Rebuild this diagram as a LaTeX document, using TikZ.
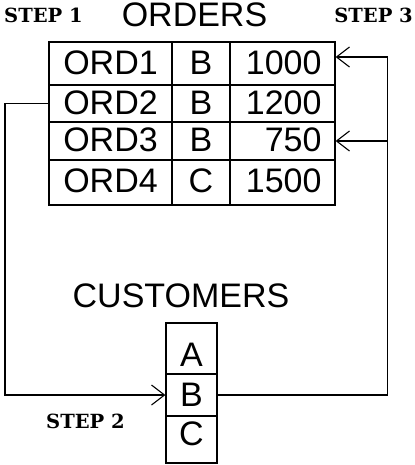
\documentclass[tikz,border=0pt]{standalone}
\usepackage{fontspec}
\setmainfont{Liberation Sans}
\newfontfamily\stepfont{DejaVu Serif}
\usetikzlibrary{arrows.meta}
\tikzset{
  cell/.style={draw, line width=1.2bp, inner sep=0pt, text height=24.3bp, text depth=3bp,
    font=\fontsize{34bp}{36bp}\selectfont},
  numcell/.style={cell, text width=78bp, align=right},
  title/.style={inner sep=0pt, font=\fontsize{34bp}{36bp}\selectfont},
  steplbl/.style={inner sep=0pt, font=\stepfont\bfseries\fontsize{19.5bp}{22bp}\selectfont},
  conn/.style={line width=1.3bp, -{Straight Barb[length=13bp,width=20bp,line width=1.1bp]}}
}
\begin{document}
\begin{tikzpicture}[x=1bp,y=-1bp]
\useasboundingbox (0,0) rectangle (414,465);
% ORDERS table
\node[cell, minimum width=123bp, minimum height=43bp] (r1c1) at (110.5,63.5) {ORD1};
\node[cell, minimum width=58bp,  minimum height=43bp] (r1c2) at (201,63.5) {B};
\node[numcell, minimum width=105bp, minimum height=43bp] (r1c3) at (282.5,63.5) {1000};
\node[cell, minimum width=123bp, minimum height=37bp] (r2c1) at (110.5,103.5) {ORD2};
\node[cell, minimum width=58bp,  minimum height=37bp] (r2c2) at (201,103.5) {B};
\node[numcell, minimum width=105bp, minimum height=37bp] (r2c3) at (282.5,103.5) {1200};
\node[cell, minimum width=123bp, minimum height=38bp] (r3c1) at (110.5,141) {ORD3};
\node[cell, minimum width=58bp,  minimum height=38bp] (r3c2) at (201,141) {B};
\node[numcell, minimum width=105bp, minimum height=38bp] (r3c3) at (282.5,141) {750};
\node[cell, minimum width=123bp, minimum height=45bp, text depth=5bp] (r4c1) at (110.5,182.5) {ORD4};
\node[cell, minimum width=58bp,  minimum height=45bp, text depth=5bp] (r4c2) at (201,182.5) {C};
\node[numcell, minimum width=105bp, minimum height=45bp, text depth=5bp] (r4c3) at (282.5,182.5) {1500};
% CUSTOMERS table
\node[cell, minimum width=51bp, minimum height=51bp, text height=35.3bp, text depth=0bp] (cA) at (191.5,348.5) {A};
\node[cell, minimum width=51bp, minimum height=42bp, text depth=2bp] (cB) at (191.5,395) {B};
\node[cell, minimum width=51bp, minimum height=47bp, text depth=13bp] (cC) at (191.5,439.5) {C};
% titles
\node[title, anchor=base] (orders) at (194.5,27) {ORDERS};
\node[title, anchor=base] (customers) at (181,307) {CUSTOMERS};
% step labels
\node[steplbl, anchor=base west] (s1) at (4,23) {STEP 1};
\node[steplbl, anchor=base east] (s3) at (413,23) {STEP 3};
\node[steplbl, anchor=base west] (s2) at (46,428) {STEP 2};
% connectors
\coordinate (L) at (5,250);
\coordinate (R) at (387.5,57);
\draw[conn] (r2c1.west) -| (L) |- (cB.west);
\draw[conn] (cB.east) -| (R) -- (R -| r1c3.east);
\draw[conn] (R |- r3c3.east) -- (r3c3.east);
\end{tikzpicture}
\end{document}
